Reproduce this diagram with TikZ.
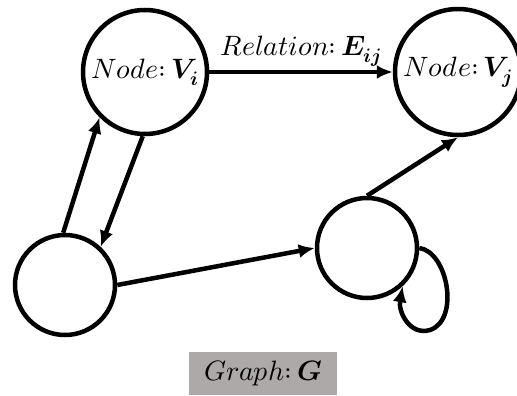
\documentclass[tikz,border=0pt]{standalone}
\usepackage{amsmath}
\usepackage{unicode-math}
\setmathfont{Latin Modern Math}
\usetikzlibrary{arrows.meta}
\definecolor{boxgray}{RGB}{173,169,169}
\begin{document}
\begin{tikzpicture}[x=1pt, y=-1pt, line width=4.5pt,
    vertex/.style={circle, draw, inner sep=0pt, font=\fontsize{28}{32}\selectfont},
    arr/.style={-{Latex[length=16pt,width=14pt]}}]
    \useasboundingbox (0,0) rectangle (517,396);

    % Nodes
    \node[vertex, minimum size=124pt] (vi) at (145,72) {$Node{:}\,\symbfit{V}_{\symbfit{i}}$};
    \node[vertex, minimum size=126pt] (vj) at (458,72) {$Node{:}\,\symbfit{V}_{\symbfit{j}}$};
    \node[vertex, minimum size=100pt] (low) at (65,285) {};
    \node[vertex, minimum size=100pt] (mid) at (367,248) {};

    % Graph label
    \node[fill=boxgray, minimum width=148pt, minimum height=43pt,
        font=\fontsize{28}{32}\selectfont] (graph) at (263,373) {$Graph{:}\,\symbfit{G}$};

    % Edges
    \draw[arr] (vi.east) -- node[above, font=\fontsize{28}{32}\selectfont] {$Relation{:}\,\symbfit{E}_{\symbfit{ij}}$} (vj.west);
    \draw[arr] (low.92) -- (vi.-135);
    \draw[arr] (vi.-92) -- (low.47);
    \draw[arr] (low.east) -- (mid.west);
    \draw[arr] (mid.north) -- (vj.-90);

    % Self loop
    \draw[arr] (mid.east) .. controls (448,252) and (460,320) .. (430,330)
        .. controls (410,336) and (398,312) .. (mid.-47);
\end{tikzpicture}
\end{document}
